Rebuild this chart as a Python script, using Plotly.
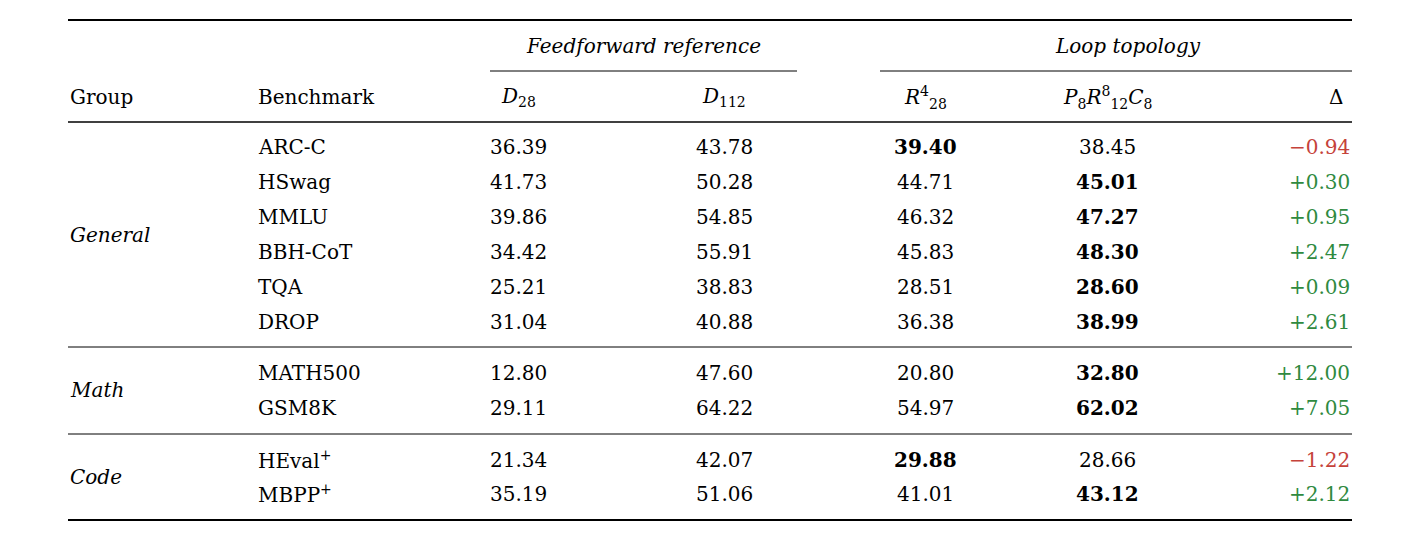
import plotly.graph_objects as go

groups = ["General", "Math", "Code"]
group_sizes = [6, 2, 2]
benchmarks = ["ARC-C", "HSwag", "MMLU", "BBH-CoT", "TQA", "DROP", "MATH500", "GSM8K", "HEval<sup>+</sup>", "MBPP<sup>+</sup>"]
d28 = [36.39, 41.73, 39.86, 34.42, 25.21, 31.04, 12.80, 29.11, 21.34, 35.19]
d112 = [43.78, 50.28, 54.85, 55.91, 38.83, 40.88, 47.60, 64.22, 42.07, 51.06]
r28 = [39.40, 44.71, 46.32, 45.83, 28.51, 36.38, 20.80, 54.97, 29.88, 41.01]
p8r12c8 = [38.45, 45.01, 47.27, 48.30, 28.60, 38.99, 32.80, 62.02, 28.66, 43.12]
delta = [-0.94, 0.30, 0.95, 2.47, 0.09, 2.61, 12.00, 7.05, -1.22, 2.12]

FONT = "DejaVu Serif"
FS = 20
RED = "#c5423a"
GREEN = "#2f8a3f"

fig = go.Figure()
ann = []
def txt(x, y, s, anchor="center", color="black", size=FS):
    ann.append(dict(x=x, y=y, text=s, showarrow=False, xanchor=anchor, yanchor="middle",
                    font=dict(family=FONT, size=size, color=color), xref="x", yref="y"))

shapes = []
def hline(x0, x1, y, w):
    shapes.append(dict(type="line", x0=x0, x1=x1, y0=y, y1=y, xref="x", yref="y",
                       line=dict(color="black", width=w)))

hline(68, 1352, 20, 2)
hline(490, 797, 71, 1)
hline(880, 1352, 71, 1)
hline(68, 1352, 122, 1.3)
hline(68, 1352, 347, 1)
hline(68, 1352, 434, 1)
hline(68, 1352, 520, 2)

cx = [518, 724, 925, 1107]
txt(643, 46, "<i>Feedforward reference</i>")
txt(1128, 46, "<i>Loop topology</i>")
txt(68, 97, "Group", "left")
txt(256, 97, "Benchmark", "left")
txt(cx[0], 97, "<i>D</i><sub>28</sub>")
txt(cx[1], 97, "<i>D</i><sub>112</sub>")
txt(cx[2], 97, "<i>R</i><sup>4</sup><sub>28</sub>")
txt(cx[3], 97, "<i>P</i><sub>8</sub><i>R</i><sup>8</sup><sub>12</sub><i>C</i><sub>8</sub>")
txt(1345, 97, "Δ", "right")

row_y = [147, 182, 217, 252, 287, 322, 373, 408, 460, 494]
group_y = [235, 390, 477]
for g, y in zip(groups, group_y):
    txt(68, y, f"<i>{g}</i>", "left")

for i, y in enumerate(row_y):
    txt(256, y, benchmarks[i], "left")
    txt(cx[0], y, f"{d28[i]:.2f}")
    txt(cx[1], y, f"{d112[i]:.2f}")
    rb = r28[i] > p8r12c8[i]
    txt(cx[2], y, f"<b>{r28[i]:.2f}</b>" if rb else f"{r28[i]:.2f}")
    txt(cx[3], y, f"{p8r12c8[i]:.2f}" if rb else f"<b>{p8r12c8[i]:.2f}</b>")
    d = delta[i]
    s = ("+" if d >= 0 else "−") + f"{abs(d):.2f}"
    txt(1352, y, s, "right", GREEN if d >= 0 else RED)

fig.update_layout(width=1420, height=548, margin=dict(l=0, r=0, t=0, b=0),
                  paper_bgcolor="white", plot_bgcolor="white",
                  annotations=ann, shapes=shapes, showlegend=False)
fig.update_xaxes(range=[8, 1428], visible=False, fixedrange=True)
fig.update_yaxes(range=[556, 8], visible=False, fixedrange=True)
fig.write_html("out.html")
